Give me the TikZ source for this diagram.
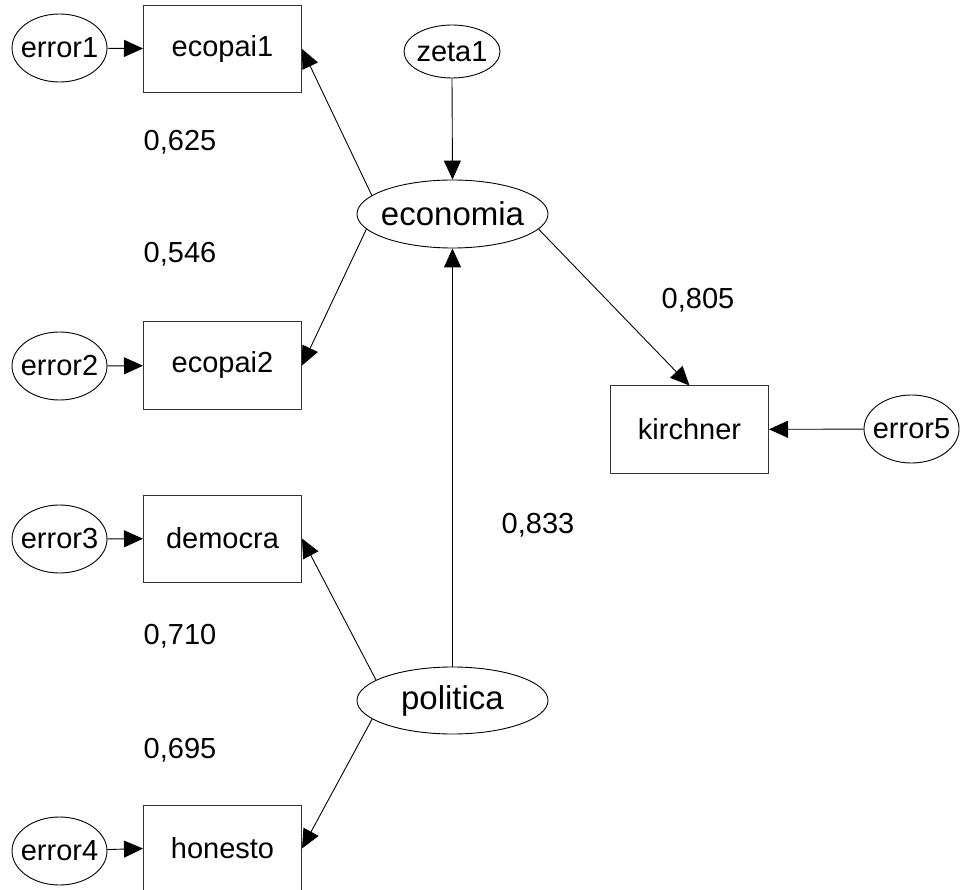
\documentclass[tikz,border=0pt]{standalone}
\usepackage{fontspec}
\setmainfont{Liberation Sans}
\usetikzlibrary{arrows.meta,shapes.geometric,backgrounds}
\newcommand{\zw}[1]{\makebox[0pt]{#1}}
\begin{document}
\begin{tikzpicture}[x=1pt,y=-1pt,
  obs/.style={draw=black!80, line width=1pt, fill=white, minimum width=158pt, minimum height=87pt, inner sep=0pt, font=\fontsize{29}{34}\selectfont},
  err/.style={ellipse, draw, line width=0.9pt, fill=white, minimum width=95pt, minimum height=68pt, inner sep=0pt, font=\fontsize{29}{34}\selectfont},
  lat/.style={ellipse, draw, line width=0.9pt, fill=white, minimum width=191pt, minimum height=68pt, inner sep=0pt, font=\fontsize{33}{38}\selectfont},
  conn/.style={line width=0.9pt, -{Triangle[length=19pt,width=17pt]}},
  lbl/.style={font=\fontsize{29}{34}\selectfont, inner sep=0pt}]
\useasboundingbox (0,0) rectangle (961,890);
% observed variables
\node[obs] (ecopai1) at (222.5,49) {ecopai1};
\node[obs] (ecopai2) at (222.5,365.5) {ecopai2};
\node[obs] (democra) at (222.5,538.5) {democra};
\node[obs] (honesto) at (222.5,848.5) {honesto};
\node[obs] (kirchner) at (689.5,429.5) {kirchner};
% errors
\node[err] (error1) at (59.5,48) {\zw{error1}};
\node[err] (error2) at (59.5,366) {\zw{error2}};
\node[err] (error3) at (59.5,539) {\zw{error3}};
\node[err] (error4) at (59.5,851) {\zw{error4}};
\node[err] (error5) at (911.5,429) {\zw{error5}};
\node[err, minimum width=96pt, minimum height=53pt] (zeta1) at (452,51.5) {\zw{zeta1}};
% latent
\node[lat] (economia) at (452.5,214) {\zw{economia}};
\node[lat, minimum height=67pt] (politica) at (452.5,700.5) {\zw{politica}};
% labels
\node[lbl] (l1) at (180,142) {0,625};
\node[lbl] (l2) at (180,254) {0,546};
\node[lbl] (l3) at (698,300) {0,805};
\node[lbl] (l4) at (538,525) {0,833};
\node[lbl] (l5) at (180,636) {0,710};
\node[lbl] (l6) at (180,750) {0,695};
% connectors
\begin{scope}[on background layer]
\fill[white] (0,0) rectangle (961,890);
\draw[conn] (error1) -- (ecopai1);
\draw[conn] (error2) -- (ecopai2);
\draw[conn] (error3) -- (democra);
\draw[conn] (error4) -- (honesto.west);
\draw[conn] (error5) -- (kirchner);
\draw[conn] (economia.167) -- (ecopai1.east);
\draw[conn] (economia.190) -- (ecopai2.east);
\draw[conn] (politica.165) -- (democra.east);
\draw[conn] (politica.193) -- (honesto.east);
\draw[conn] (zeta1.south) -- (economia.north);
\draw[conn] (politica.north) -- (economia.south);
\draw[conn] (economia.350) -- (kirchner.north);
\end{scope}
\end{tikzpicture}
\end{document}
